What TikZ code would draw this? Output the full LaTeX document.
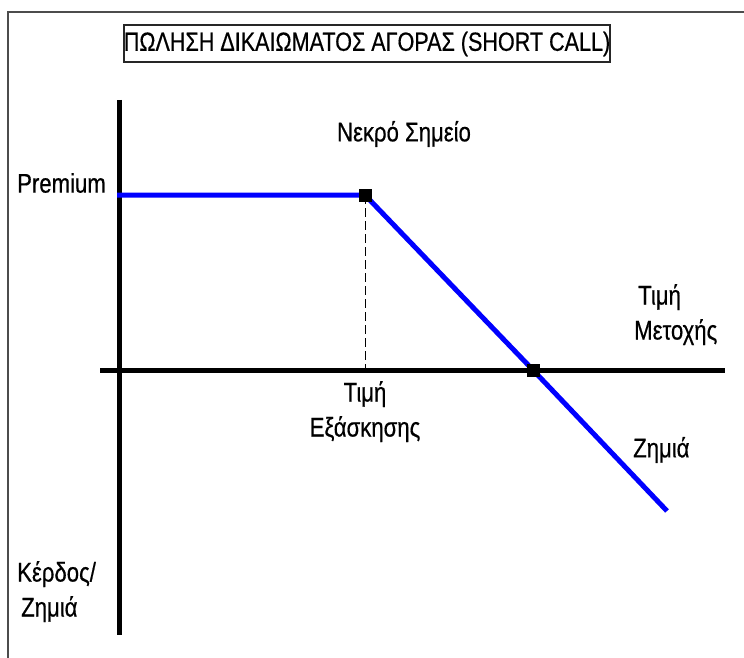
\documentclass[tikz,border=0pt]{standalone}
\usepackage{fontspec}
\setmainfont[FakeStretch=0.82, FakeBold=0.5]{Liberation Sans}
\begin{document}
\begin{tikzpicture}[x=1pt,y=-1pt,
  lbl/.style={font=\fontsize{27}{35}\selectfont, inner sep=0pt, align=left},
  axisline/.style={line width=5pt, black},
  payoff/.style={line width=5pt, color={rgb,255:red,0;green,0;blue,255}},
  marker/.style={fill=black, minimum size=13pt, inner sep=0pt, draw=none},
  titlebox/.style={draw=black!85, line width=2pt, inner sep=0pt,
    minimum width=467pt, minimum height=37pt, font=\fontsize{26.3}{33}\selectfont}]
\useasboundingbox (0,0) rectangle (744,658);
\fill[white] (0,0) rectangle (744,658);
% outer frame
\draw[line width=2pt, black!70] (8,660) -- (8,12) -- (746,12);
% title
\node[titlebox] (title) at (367,44) {ΠΩΛΗΣΗ ΔΙΚΑΙΩΜΑΤΟΣ ΑΓΟΡΑΣ (SHORT CALL)};
% axes
\coordinate (ytop) at (119,100);
\coordinate (ybot) at (119,635);
\coordinate (xl) at (100,370);
\coordinate (xr) at (725,370);
\draw[axisline] (ytop) -- (ybot);
\draw[axisline] (xl) -- (xr);
% payoff points
\coordinate (p0) at (117,195);
\coordinate (strike) at (365,195);
\coordinate (breakeven) at (533,370);
\coordinate (pend) at (667,511);
\coordinate (strikeaxis) at (365,370);
\draw[line width=1pt, dash pattern=on 9pt off 4pt] (strike) -- (strikeaxis);
\draw[payoff, line join=round] (p0) -- (strike) -- (breakeven) -- (pend);
\node[marker] (m1) at (strike) {};
\node[marker] (m2) at (breakeven) {};
% labels
\node[lbl, anchor=west] (prem) at (17,183) {Premium};
\node[lbl] (nekro) at (404,134) {Νεκρό Σημείο};
\node[lbl, anchor=north west] (metoxi) at (634,284) {\hspace*{4pt}Τιμή\\Μετοχής};
\node[lbl, align=center, anchor=north] (exaskisi) at (365,381) {Τιμή\\Εξάσκησης};
\node[lbl, anchor=west] (zimia) at (633,450) {Ζημιά};
\node[lbl, anchor=north west] (kerdos) at (17,561) {Κέρδος/\\\hspace*{4pt}Ζημιά};
\end{tikzpicture}
\end{document}
